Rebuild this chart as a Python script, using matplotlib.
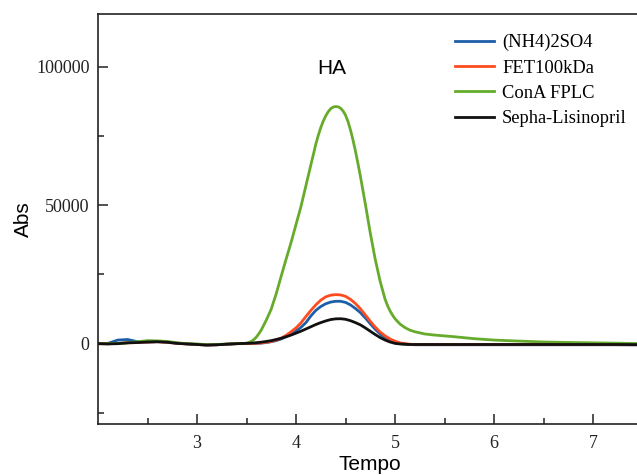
import matplotlib
matplotlib.use("Agg")
import matplotlib.pyplot as plt
from matplotlib.ticker import FixedLocator

tempo = [2.0, 2.1, 2.2, 2.3, 2.4, 2.5, 2.6, 2.7, 2.8, 2.9, 3.0, 3.1, 3.2, 3.3, 3.4,
         3.5, 3.55, 3.6, 3.65, 3.7, 3.75, 3.8, 3.85, 3.9, 3.95,
         4.0, 4.05, 4.1, 4.15, 4.2, 4.25, 4.3, 4.35, 4.4, 4.45,
         4.5, 4.55, 4.6, 4.65, 4.7, 4.75, 4.8, 4.85, 4.9, 4.95,
         5.0, 5.05, 5.1, 5.15, 5.2, 5.3, 5.4, 5.5, 5.6, 5.8,
         6.0, 6.2, 6.5, 6.8, 7.0, 7.2, 7.5]

nh4_2so4 = [0, 100, 1300, 1500, 700, 600, 700, 600, 200, -100, -300, -500, -400, -200, 0,
            50, 80, 100, 200, 400, 700, 1100, 1700, 2500, 3400,
            4500, 5900, 7600, 10000, 12000, 13400, 14400, 15000, 15300, 15300,
            14900, 14000, 12700, 11200, 9300, 7200, 5200, 3500, 2100, 1100,
            400, 0, -200, -300, -400, -400, -400, -400, -400, -400,
            -400, -400, -400, -400, -400, -400, -450]

fet100kda = [0, -50, 100, 300, 400, 600, 700, 500, 100, -100, -300, -500, -400, -200, 0,
             0, 50, 150, 300, 500, 800, 1300, 2000, 3000, 4300,
             5700, 7500, 9800, 12000, 14000, 15700, 16900, 17500, 17700, 17600,
             17100, 16000, 14500, 12600, 10400, 8100, 6000, 4200, 2800, 1700,
             900, 300, 0, -200, -300, -350, -350, -350, -350, -350,
             -350, -350, -350, -350, -350, -350, -400]

sepha_lisinopril = [0, -100, 0, 300, 400, 600, 700, 500, 100, -100, -300, -500, -400, -200, 0,
                    100, 200, 350, 550, 800, 1100, 1500, 1950, 2500, 3100,
                    3800, 4500, 5300, 6100, 6900, 7600, 8200, 8700, 8950, 9000,
                    8800, 8300, 7600, 6800, 5700, 4500, 3300, 2200, 1300, 600,
                    100, -100, -200, -300, -300, -300, -300, -300, -300, -300,
                    -300, -300, -300, -300, -300, -300, -350]

tempo_cona = [2.0, 2.1, 2.2, 2.3, 2.4, 2.5, 2.6, 2.7, 2.8, 2.9, 3.0, 3.1, 3.2, 3.3, 3.4,
              3.45, 3.5, 3.525, 3.55, 3.575, 3.6, 3.625, 3.65, 3.7, 3.75, 3.8, 3.85, 3.9, 3.95,
              4.0, 4.05, 4.1, 4.15, 4.2, 4.225, 4.25, 4.275, 4.3, 4.325, 4.35, 4.375,
              4.4, 4.425, 4.45, 4.475, 4.5, 4.525, 4.55, 4.575, 4.6, 4.625, 4.65,
              4.7, 4.75, 4.8, 4.85, 4.9, 4.925, 4.95, 4.975, 5.0, 5.05, 5.1, 5.15, 5.2,
              5.3, 5.4, 5.5, 5.6, 5.8, 6.0, 6.2, 6.5, 6.8, 7.0, 7.2, 7.5]

cona_fplc = [0, 0, 100, 300, 700, 1100, 1000, 800, 300, 0, -100, -400, -300, -100, 0,
             50, 200, 450, 850, 1500, 2400, 3600, 5000, 8500, 12500, 18000, 24300, 30500, 36500,
             43000, 49500, 57000, 64500, 72000, 75200, 78000, 80300, 82200, 83700, 84800, 85400,
             85600, 85500, 85000, 84000, 82500, 80200, 77200, 73600, 69600, 65200, 60500,
             50500, 40000, 30500, 22500, 16000, 13700, 11800, 10300, 9000, 7100, 5800, 4900, 4300,
             3500, 3100, 2800, 2500, 1800, 1300, 1000, 600, 400, 300, 200, 0]

series_names = ["(NH4)2SO4", "FET100kDa", "ConA FPLC", "Sepha-Lisinopril"]
series_colors = ["#1d5ea8", "#ff4b1f", "#66ab2c", "#111111"]

x_major = [3, 4, 5, 6, 7]
x_minor = [2.5, 3.5, 4.5, 5.5, 6.5, 7.5]
y_major = [0, 50000, 100000]
y_minor = [-25000, 25000, 75000]

fig = plt.figure(figsize=(6.37, 4.75), dpi=100)
ax = fig.add_axes([98 / 637, 51 / 475, 544.5 / 637, 410 / 475])

for xs, vals, name, col in zip([tempo, tempo, tempo_cona, tempo],
                               [nh4_2so4, fet100kda, cona_fplc, sepha_lisinopril],
                               series_names, series_colors):
    ax.plot(xs, vals, color=col, lw=2, label=name, solid_joinstyle="round")

ax.set_xlim(2.0, 7.5)
ax.set_ylim(-29000, 119000)
ax.spines["right"].set_visible(False)
for s in ["left", "top", "bottom"]:
    ax.spines[s].set_linewidth(1.2)
    ax.spines[s].set_color("#222222")

ax.xaxis.set_major_locator(FixedLocator(x_major))
ax.xaxis.set_minor_locator(FixedLocator(x_minor))
ax.yaxis.set_major_locator(FixedLocator(y_major))
ax.yaxis.set_minor_locator(FixedLocator(y_minor))
ax.tick_params(which="both", direction="in", top=False, right=False, width=1.1, color="#222222")
ax.tick_params(which="major", length=7)
ax.tick_params(which="minor", length=4.5)
ax.tick_params(axis="x", pad=8)
ax.tick_params(axis="y", pad=6)
for lab in ax.get_xticklabels() + ax.get_yticklabels():
    lab.set_fontfamily("Liberation Serif")
    lab.set_fontsize(13)
    lab.set_color("#222222")

ax.set_xlabel("Tempo", fontsize=15, family="Liberation Sans", labelpad=2)
ax.set_ylabel("Abs", fontsize=15, family="Liberation Sans", labelpad=2)

ax.text(4.36, 99300, "HA", fontsize=15, family="Liberation Sans", ha="center", va="center")

leg = ax.legend(loc="upper left", bbox_to_anchor=(455 / 637, 1 - 34 / 475),
                bbox_transform=fig.transFigure, frameon=False, borderpad=0,
                borderaxespad=0, handlelength=2.1, handletextpad=0.45,
                labelspacing=0.45, prop={"family": "Liberation Serif", "size": 13.3})

fig.savefig("out.png", dpi=100)
